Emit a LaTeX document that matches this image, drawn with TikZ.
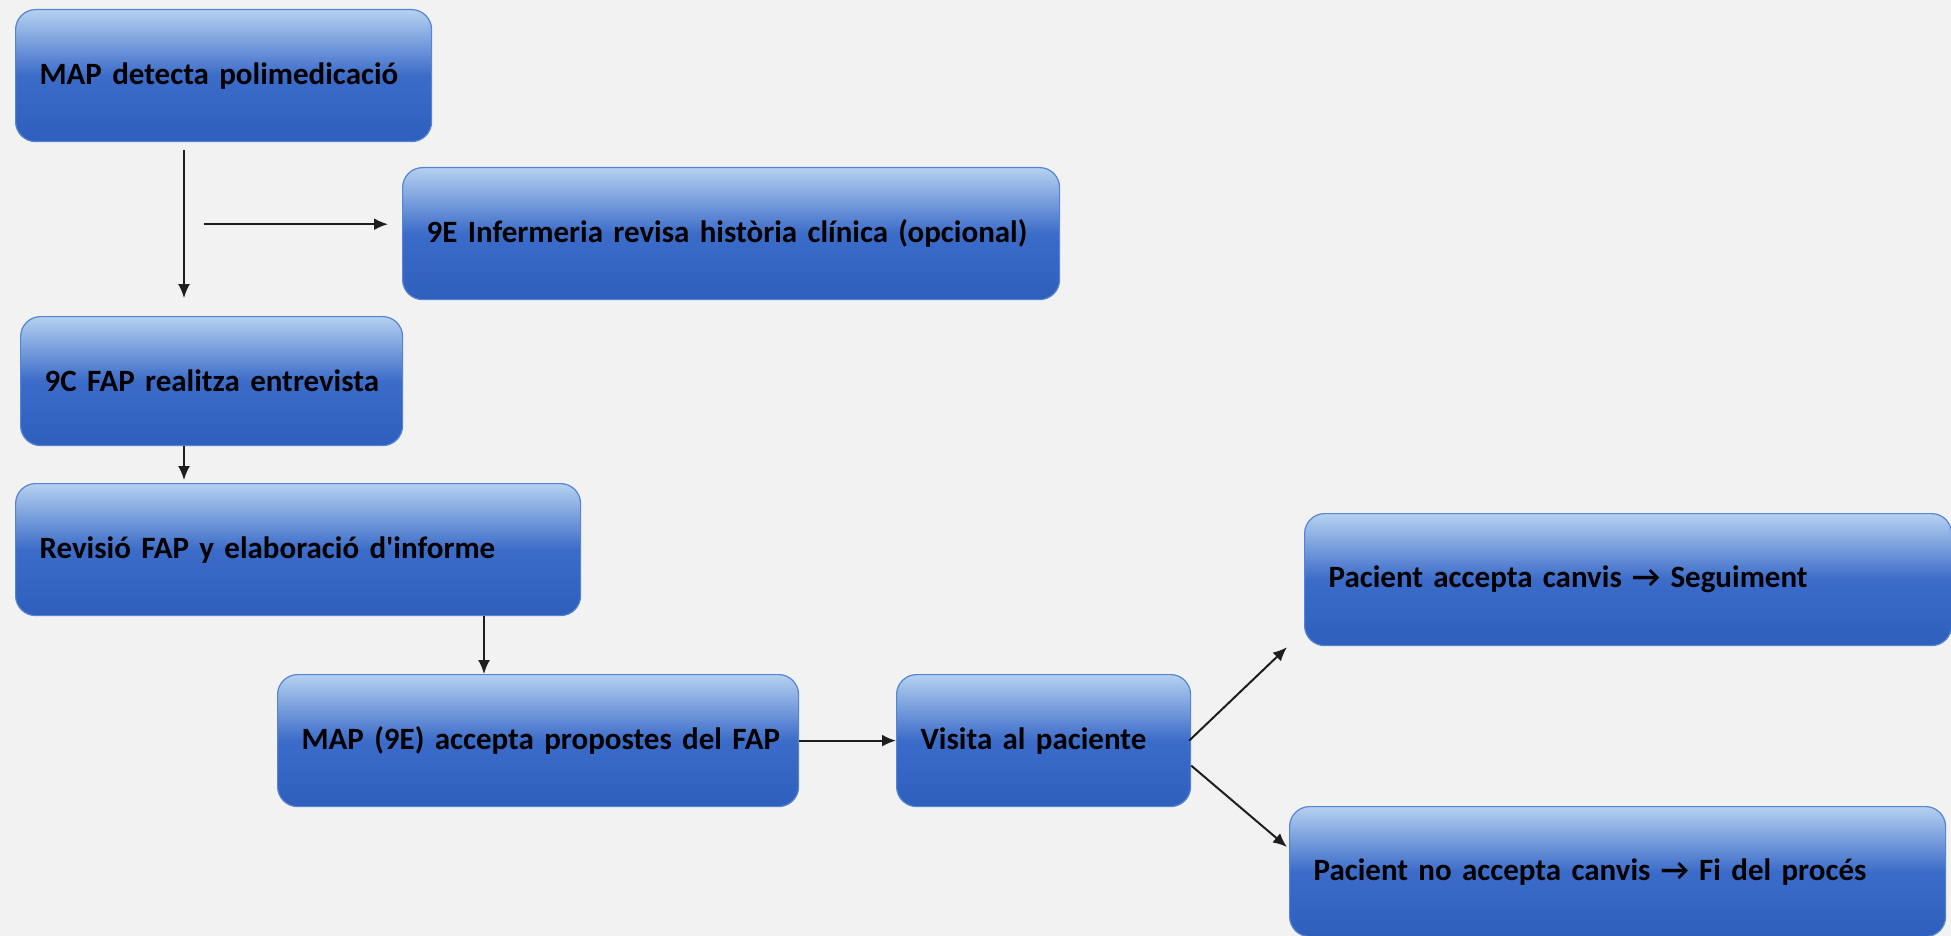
\documentclass[tikz,border=0pt]{standalone}
\usepackage{fontspec}
\setmainfont{Carlito}[WordSpace=0.6]
\usetikzlibrary{calc,arrows.meta}
\definecolor{bg}{HTML}{F2F2F2}
\definecolor{btop}{HTML}{B5D1F0}
\definecolor{bmid}{HTML}{3C6CC9}
\definecolor{bbot}{HTML}{2F5FBC}
\definecolor{bline}{HTML}{5585D2}
\definecolor{lnk}{HTML}{1E1E1E}
\pgfdeclareverticalshading{boxshade}{100bp}{color(0bp)=(bbot); color(25bp)=(bbot); color(50bp)=(bmid); color(75bp)=(btop); color(100bp)=(btop)}
\tikzset{
  stepbox/.style={draw=bline, line width=1.2pt, rounded corners=20pt, shading=boxshade,
    inner xsep=24pt, inner ysep=0pt, anchor=north west, align=left,
    font=\fontsize{31}{36}\selectfont\bfseries, text=black},
  arr/.style={draw=lnk, line width=2pt, -{Latex[length=14pt,width=12pt]}}
}
\begin{document}
\begin{tikzpicture}[x=1pt,y=-1pt]
\fill[bg] (0,0) rectangle (1951,936);
\useasboundingbox (0,0) rectangle (1951,936);

\node[stepbox, text width=368pt, minimum height=132pt] (A) at (15,9) {\mbox{MAP detecta polimedicació}};
\node[stepbox, text width=609pt, minimum height=132pt] (B) at (402,167) {\mbox{9E Infermeria revisa història clínica (opcional)}};
\node[stepbox, text width=334pt, minimum height=129pt] (C) at (20,316) {\mbox{9C FAP realitza entrevista}};
\node[stepbox, text width=517pt, minimum height=132pt] (D) at (15,483) {\mbox{Revisió FAP y elaboració d\textquotesingle informe}};
\node[stepbox, text width=473pt, minimum height=132pt] (E) at (277,674) {\mbox{MAP (9E) accepta propostes del FAP}};
\node[stepbox, text width=246pt, minimum height=132pt] (F) at (896,674) {\mbox{Visita al paciente}};
\node[stepbox, text width=599pt, minimum height=132pt] (G) at (1304,513) {\mbox{Pacient accepta canvis → Seguiment}};
\node[stepbox, text width=608pt, minimum height=130pt] (H) at (1289,806) {\mbox{Pacient no accepta canvis → Fi del procés}};

\coordinate (h1) at ($(A.south west)+(189,82)$);
\coordinate (h2) at ($(B.north west)+(-14,0)$);
\draw[arr] ($(A.south west)+(169,8)$) -- ($(C.north west)+(164,-18)$);
\draw[arr] (h1) -- (h2 |- h1);
\draw[arr] ($(C.south west)+(164,0)$) -- ($(D.north west)+(169,-3)$);
\coordinate (v1) at ($(D.south west)+(469,0)$);
\draw[arr] (v1) -- (E.north west -| v1);
\draw[arr] (E.east) -- (F.west);
\draw[arr] ($(F.east)+(-2,0)$) -- ($(G.south west)+(-17,1)$);
\draw[arr] ($(F.east)+(0,25)$) -- ($(H.north west)+(-2,41)$);
\end{tikzpicture}
\end{document}
